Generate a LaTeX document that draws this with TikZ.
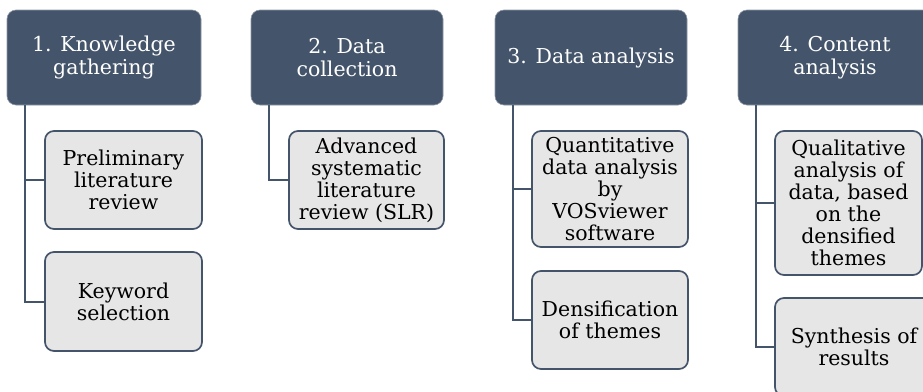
\documentclass[tikz,border=0pt]{standalone}
\usepackage{fontspec}
\setmainfont{DejaVu Serif}
\definecolor{hdrc}{HTML}{44546A}
\definecolor{childc}{HTML}{E7E6E6}
\tikzset{
  hdr/.style={rectangle, rounded corners=9pt, fill=hdrc, draw=hdrc!60!white, line width=0.6pt,
    text=white, align=center, font=\fontsize{20.5}{23}\selectfont, inner sep=2pt},
  child/.style={rectangle, rounded corners=9pt, fill=childc, draw=hdrc, line width=1.7pt,
    text=black, align=center, font=\fontsize{20.5}{22}\selectfont, inner sep=2pt},
  conn/.style={draw=hdrc, line width=2pt}
}
\begin{document}
\begin{tikzpicture}[x=1pt,y=-1pt]
\path[use as bounding box] (0,0) rectangle (923,391);
\clip (0,0) rectangle (923,391);
\fill[white] (0,0) rectangle (923,391);
% headers
\node[hdr, minimum width=194pt, minimum height=95pt] (h1) at (104,57.5) {1. Knowledge\\gathering};
\node[hdr, minimum width=192pt, minimum height=95pt] (h2) at (347,57.5) {2. Data\\collection};
\node[hdr, minimum width=192pt, minimum height=95pt] (h3) at (591,57.5) {3. Data analysis};
\node[hdr, minimum width=194pt, minimum height=95pt] (h4) at (835,57.5) {4. Content\\analysis};
% children
\node[child, minimum width=157pt, minimum height=98pt] (c1a) at (123.5,180) {Preliminary\\literature\\review};
\node[child, minimum width=157pt, minimum height=99pt] (c1b) at (123.5,301.5) {Keyword\\selection};
\node[child, minimum width=155pt, minimum height=98pt] (c2a) at (366.5,180) {Advanced\\systematic\\literature\\review (SLR)};
\node[child, minimum width=156pt, minimum height=116pt] (c3a) at (610,189) {Quantitative\\data analysis\\by\\VOSviewer\\software};
\node[child, minimum width=156pt, minimum height=98pt] (c3b) at (610,320) {Densification\\of themes};
\node[child, minimum width=147pt, minimum height=144pt] (c4a) at (848.5,203) {Qualitative\\analysis of\\data, based\\on the\\densified\\themes};
\node[child, minimum width=158pt, minimum height=98pt] (c4b) at (854,347) {Synthesis of\\results};
% connectors
\coordinate (v1) at ([xshift=18pt]h1.south west);
\coordinate (v2) at ([xshift=18pt]h2.south west);
\coordinate (v3) at ([xshift=18pt]h3.south west);
\coordinate (v4) at ([xshift=18pt]h4.south west);
\draw[conn] (v1) |- (c1b.west);
\draw[conn] (v1 |- c1a.west) -- (c1a.west);
\draw[conn] (v2) |- (c2a.west);
\draw[conn] (v3) |- (c3b.west);
\draw[conn] (v3 |- c3a.west) -- (c3a.west);
\draw[conn] (v4) |- (c4b.west);
\draw[conn] (v4 |- c4a.west) -- (c4a.west);
\end{tikzpicture}
\end{document}
